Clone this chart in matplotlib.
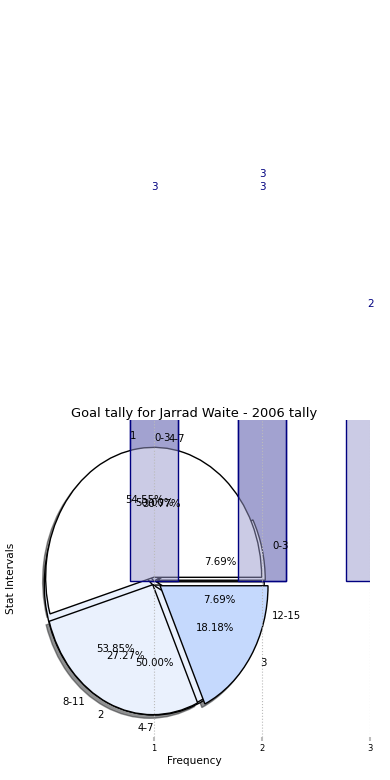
import matplotlib.pyplot as plt

# pie data (intervals / frequencies)
pie_c_labels = ['0-3', '4-7']
pie_c_sizes = [1, 1]
pie_b_labels = ['0-3', '4-7', '8-11', '12-15']
pie_b_sizes = [1, 4, 7, 1]
pie_a_labels = ['1', '2', '3']
pie_a_sizes = [6, 3, 2]

# bar data
tick_labels = ['1', '2', '3']
dark_x = [0, 1]
dark_heights = [3, 3]
light_x = [0, 1, 2]
light_heights = [3, 3, 2]
light_labels = ['', '3', '2']

fig = plt.figure(figsize=(3.9, 7.8), dpi=100)
ax = fig.add_axes([0.049, 0.055, 0.9, 0.4065])

# first bar series sits under the pies
ax.bar(dark_x, dark_heights, width=0.45, color=(0.6, 0.6, 0.8, 0.8),
       edgecolor='navy', linewidth=1)
for x, h in zip(dark_x, dark_heights):
    ax.annotate(str(h), (x, h), xytext=(0, 3), textcoords='offset points',
                ha='center', va='center', color='navy', fontsize=7.5,
                annotation_clip=False)

txt = {'fontsize': 7.3}
wp = {'edgecolor': 'black', 'linewidth': 1}
ax.pie(pie_c_sizes, labels=pie_c_labels, autopct='%1.2f%%', startangle=-0.01,
       explode=[0, 0.03], colors=['white', '#eaf1fd'], wedgeprops=wp, textprops=txt)
ax.pie(pie_b_sizes, labels=pie_b_labels, autopct='%1.2f%%',
       explode=[0.03, 0, 0.03, 0.02], colors=['white', '#eaf1fd', '#eaf1fd', 'white'],
       wedgeprops=wp, textprops=txt)
ax.pie(pie_a_sizes, labels=pie_a_labels, autopct='%1.2f%%',
       explode=[0.03, 0.03, 0.065], colors=['white', '#eaf1fd', '#c5d9fd'],
       shadow={'shade': 0.85}, wedgeprops=wp, textprops=txt)

# second bar series on top
ax.bar(light_x, light_heights, width=0.45, color=(0.6, 0.6, 0.8, 0.5),
       edgecolor='navy', linewidth=1)
for x, h, lab in zip(light_x, light_heights, light_labels):
    ax.annotate(lab, (x, h), xytext=(0, 9), textcoords='offset points',
                ha='center', va='bottom', color='navy', fontsize=7.5,
                annotation_clip=False)

ax.set_aspect('auto')
ax.set_xlim(-1.25, 2.0)
ax.set_ylim(-1.2, 1.24)
ax.set_frame_on(False)
ax.set_xticks([0, 1, 2], tick_labels)
ax.set_yticks([])
ax.tick_params(axis='x', labelsize=6, color='#bbbbbb', length=3, width=1.5, pad=2)
ax.grid(axis='x', linestyle=':', color='#bbbbbb')
ax.set_axisbelow(False)
ax.set_title('Goal tally for Jarrad Waite - 2006 tally', fontsize=9.4, pad=2)
ax.set_xlabel('Frequency', fontsize=7.6, labelpad=2)
ax.set_ylabel('Stat Intervals', fontsize=7.6, labelpad=2)

plt.savefig('out.png', dpi=100)
